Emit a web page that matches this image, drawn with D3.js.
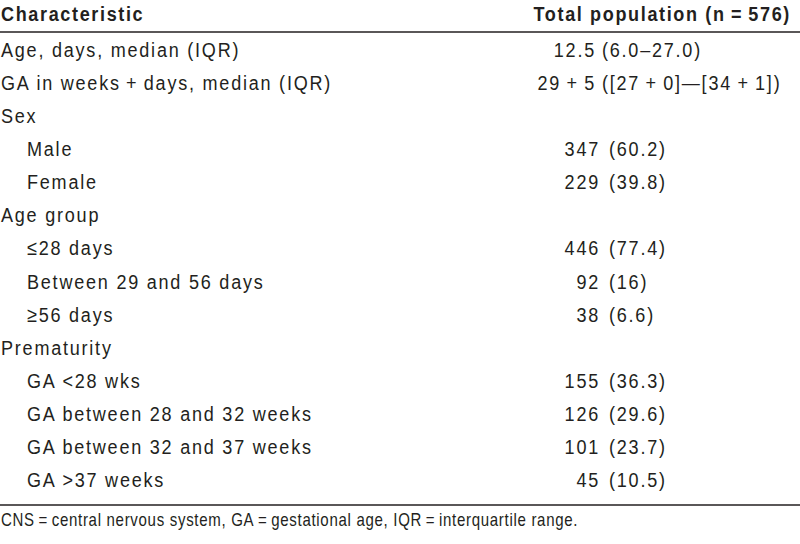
<!DOCTYPE html>
<html>
<head>
<meta charset="utf-8">
<script src="https://cdn.jsdelivr.net/npm/d3@7"></script>
<style>
  html, body { margin: 0; padding: 0; background: #fff; }
  svg { display: block; }
  text { font-family: "Liberation Sans", Arial, sans-serif; fill: #231f20; }
</style>
</head>
<body>
<svg id="chart" width="800" height="544"></svg>
<script>
// ---- data ----
const headerLabels = ["Characteristic", "Total population (n\u2009=\u2009576)"];
const characteristics = [
  "Age, days, median (IQR)",
  "GA in weeks\u2009+\u2009days, median (IQR)",
  "Sex",
  "Male",
  "Female",
  "Age group",
  "\u226428 days",
  "Between 29 and 56 days",
  "\u226556 days",
  "Prematurity",
  "GA <28 wks",
  "GA between 28 and 32 weeks",
  "GA between 32 and 37 weeks",
  "GA >37 weeks"
];
const isSubItem = [false, false, false, true, true, false, true, true, true, false, true, true, true, true];
const rowKind = ["median", "median", "group", "n", "n", "group", "n", "n", "n", "group", "n", "n", "n", "n"];
const counts = ["12.5", "29\u2009+\u20095", "", "347", "229", "", "446", "92", "38", "", "155", "126", "101", "45"];
const details = ["(6.0\u201327.0)", "([27\u2009+\u20090]\u2014[34\u2009+\u20091])", "", "(60.2)", "(39.8)", "", "(77.4)", "(16)", "(6.6)", "", "(36.3)", "(29.6)", "(23.7)", "(10.5)"];
const footnote = "CNS\u2009=\u2009central nervous system, GA\u2009=\u2009gestational age, IQR\u2009=\u2009interquartile range.";

// ---- layout ----
const svg = d3.select("#chart");
const W = 800;
const SX = 0.86; // horizontal condensing to mimic a condensed face
const rowY = d3.scaleLinear().domain([0, characteristics.length - 1]).range([57, 487]);
const labelX = d3.scaleOrdinal().domain([false, true]).range([1, 27]);
const countRight = d3.scaleOrdinal().domain(["median", "n"]).range([596, 600]);
const detailLeft = d3.scaleOrdinal().domain(["median", "n"]).range([602, 609]);

const place = (sel, x, y) => sel.attr("transform", (d, i) =>
  `translate(${typeof x === "function" ? x(d, i) : x},${typeof y === "function" ? y(d, i) : y}) scale(${SX},1)`);

const bodyStyle = sel => sel
  .attr("font-size", 21)
  .attr("letter-spacing", 2.05);

// header
svg.append("text").call(place, 1, 21)
  .attr("font-weight", "bold").attr("font-size", 21).attr("letter-spacing", 1.9)
  .text(headerLabels[0]);
svg.append("text").call(place, 791, 21).attr("text-anchor", "end")
  .attr("font-weight", "bold").attr("font-size", 21).attr("letter-spacing", 1.9)
  .text(headerLabels[1]);

svg.append("line").attr("x1", 0).attr("x2", W).attr("y1", 32).attr("y2", 32)
  .attr("stroke", "#231f20").attr("stroke-width", 1.4);

const rows = svg.append("g").selectAll("g")
  .data(characteristics.map((c, i) => ({ label: c, sub: isSubItem[i], kind: rowKind[i], count: counts[i], detail: details[i], i })))
  .join("g");

rows.append("text")
  .call(place, d => labelX(d.sub), d => rowY(d.i))
  .call(bodyStyle)
  .text(d => d.label);

rows.filter(d => d.count !== "").append("text")
  .call(place, d => countRight(d.kind), d => rowY(d.i))
  .attr("text-anchor", "end")
  .call(bodyStyle)
  .text(d => d.count);

rows.filter(d => d.detail !== "").append("text")
  .call(place, d => detailLeft(d.kind), d => rowY(d.i))
  .call(bodyStyle)
  .text(d => d.detail);

svg.append("line").attr("x1", 0).attr("x2", W).attr("y1", 505).attr("y2", 505)
  .attr("stroke", "#231f20").attr("stroke-width", 1.4);

svg.append("text").call(place, 1, 526)
  .attr("font-size", 17.5).attr("letter-spacing", 0.8)
  .text(footnote);
</script>
</body>
</html>
